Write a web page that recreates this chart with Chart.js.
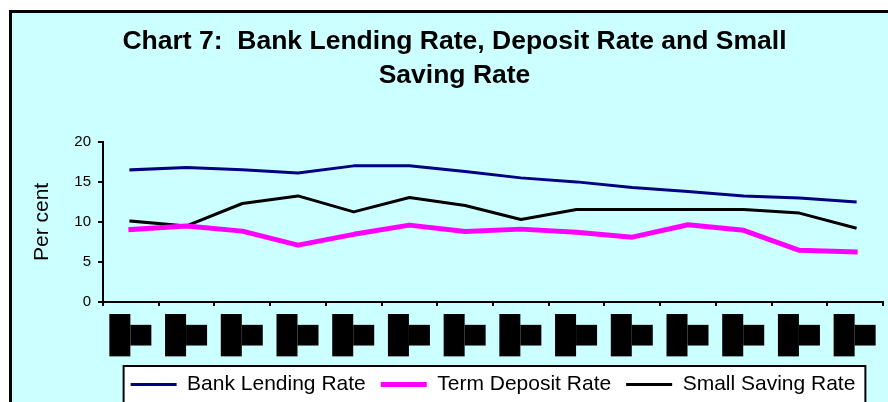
<!DOCTYPE html>
<html>
<head>
<meta charset="utf-8">
<title>Chart 7</title>
<script src="https://cdn.jsdelivr.net/npm/chart.js@4"></script>
<style>
  html, body { margin:0; padding:0; background:#fff; overflow:hidden; }
  #frame { position:absolute; left:9px; top:10px; width:900px; height:420px;
           border:3px solid #000; background:#CCFFFF; }
  #wrap { position:relative; width:888px; height:392px; }
</style>
</head>
<body>
<div id="frame"><div id="wrap"><canvas id="chart7"></canvas></div></div>
<script>
/* ── data ── */
const YEARS = [
  ['1990-','91'], ['1991-','92'], ['1992-','93'], ['1993-','94'], ['1994-','95'],
  ['1995-','96'], ['1996-','97'], ['1997-','98'], ['1998-','99'], ['1999-','00'],
  ['2000-','01'], ['2001-','02'], ['2002-','03'], ['2003-','04']
];
const LENDING = [16.5, 16.8, 16.5, 16.1, 17.0, 17.0, 16.3, 15.5, 15.0, 14.3, 13.8, 13.25, 13.0, 12.5];
const DEPOSIT = [9.05, 9.5, 8.85, 7.1, 8.45, 9.6, 8.8, 9.1, 8.7, 8.1, 9.65, 8.95, 6.45, 6.25];
const SAVING  = [10.1, 9.5, 12.3, 13.25, 11.25, 13.05, 12.05, 10.3, 11.55, 11.55, 11.55, 11.55, 11.1, 9.25];
const Y_TICKS = [0, 5, 10, 15, 20];

const FONT = '"Liberation Sans", Arial, sans-serif';

/* ── x labels come out as solid blocks in the original, keep that look ── */
const blockLabels = {
  id: 'blockLabels',
  afterDraw(chart) {
    const { ctx, scales: { x } } = chart;
    ctx.save();
    ctx.font = '15px ' + FONT;
    ctx.fillStyle = '#000';
    YEARS.forEach((lines, i) => {
      const cx = x.getPixelForValue(i);
      const top = x.top + 12;
      const w0 = ctx.measureText(lines[0]).width + 4;
      const w1 = ctx.measureText(lines[1]).width + 4;
      const mid = top + w0 / 2;
      ctx.fillRect(cx - 21.5, top, 21, w0);
      ctx.fillRect(cx - 0.5, mid - w1 / 2, 21, w1);
      ctx.save();
      ctx.translate(cx, mid);
      ctx.rotate(-Math.PI / 2);
      ctx.textAlign = 'center';
      ctx.textBaseline = 'middle';
      ctx.fillText(lines[0], 0, -11);
      ctx.fillText(lines[1], 0, 10);
      ctx.restore();
    });
    ctx.restore();
  }
};

/* ── white boxed legend ── */
const legendBox = {
  id: 'legendBox',
  beforeDraw(chart) {
    const lg = chart.legend;
    const hb = lg.legendHitBoxes;
    if (!hb || !hb.length) return;
    const last = hb[hb.length - 1];
    const x0 = hb[0].left - 7, x1 = last.left + last.width + 10;
    const y0 = lg.top + 7;
    const { ctx } = chart;
    ctx.save();
    ctx.fillStyle = '#fff';
    ctx.strokeStyle = '#000';
    ctx.lineWidth = 2;
    ctx.fillRect(x0, y0, x1 - x0, 60);
    ctx.strokeRect(x0, y0, x1 - x0, 60);
    ctx.restore();
  }
};

new Chart(document.getElementById('chart7'), {
  type: 'line',
  data: {
    labels: YEARS,
    datasets: [
      { label:'Bank Lending Rate', data:LENDING, borderColor:'#000080', backgroundColor:'#000080', borderWidth:3 },
      { label:'Term Deposit Rate', data:DEPOSIT, borderColor:'#FF00FF', backgroundColor:'#FF00FF', borderWidth:5 },
      { label:'Small Saving Rate', data:SAVING,  borderColor:'#000000', backgroundColor:'#000000', borderWidth:3 },
    ]
  },
  options: {
    responsive:true, maintainAspectRatio:false, animation:false,
    layout:{ padding:{ left:14, right:17, top:0, bottom:0 } },
    elements:{ line:{ tension:0, borderJoinStyle:'round', borderCapStyle:'square' }, point:{ radius:0, hoverRadius:0 } },
    plugins:{
      title:{
        display:true,
        text:['Chart 7:  Bank Lending Rate, Deposit Rate and Small', 'Saving Rate'],
        color:'#000',
        font:{ family:FONT, size:26.5, weight:'bold', lineHeight:1.28 },
        padding:{ top:12, bottom:49 }
      },
      legend:{
        position:'bottom', fullSize:false,
        labels:{ color:'#000', font:{ family:FONT, size:21 }, usePointStyle:true, pointStyle:'line', pointStyleWidth:46, padding:15 }
      },
      tooltip:{ enabled:false }
    },
    scales:{
      x:{
        offset:true,
        grid:{ display:true, offset:true, drawOnChartArea:false, drawTicks:true, tickLength:4, color:'#000', lineWidth:2 },
        border:{ display:true, color:'#000', width:2 },
        ticks:{ display:false },
        afterFit(scale){ scale.height = 57; }
      },
      y:{
        min:0, max:20,
        afterBuildTicks(scale){ scale.ticks = Y_TICKS.map(v => ({ value:v })); },
        grid:{ display:true, drawOnChartArea:false, drawTicks:true, tickLength:5, color:'#000', lineWidth:2 },
        border:{ display:true, color:'#000', width:2 },
        ticks:{ color:'#000', padding:7, font:{ family:FONT, size:15 } },
        title:{ display:true, text:'Per cent', color:'#000', font:{ family:FONT, size:21 }, padding:{ top:4, bottom:4 } },
        afterFit(scale){ scale.width = 77; }
      }
    }
  },
  plugins:[legendBox, blockLabels]
});
</script>
</body>
</html>
